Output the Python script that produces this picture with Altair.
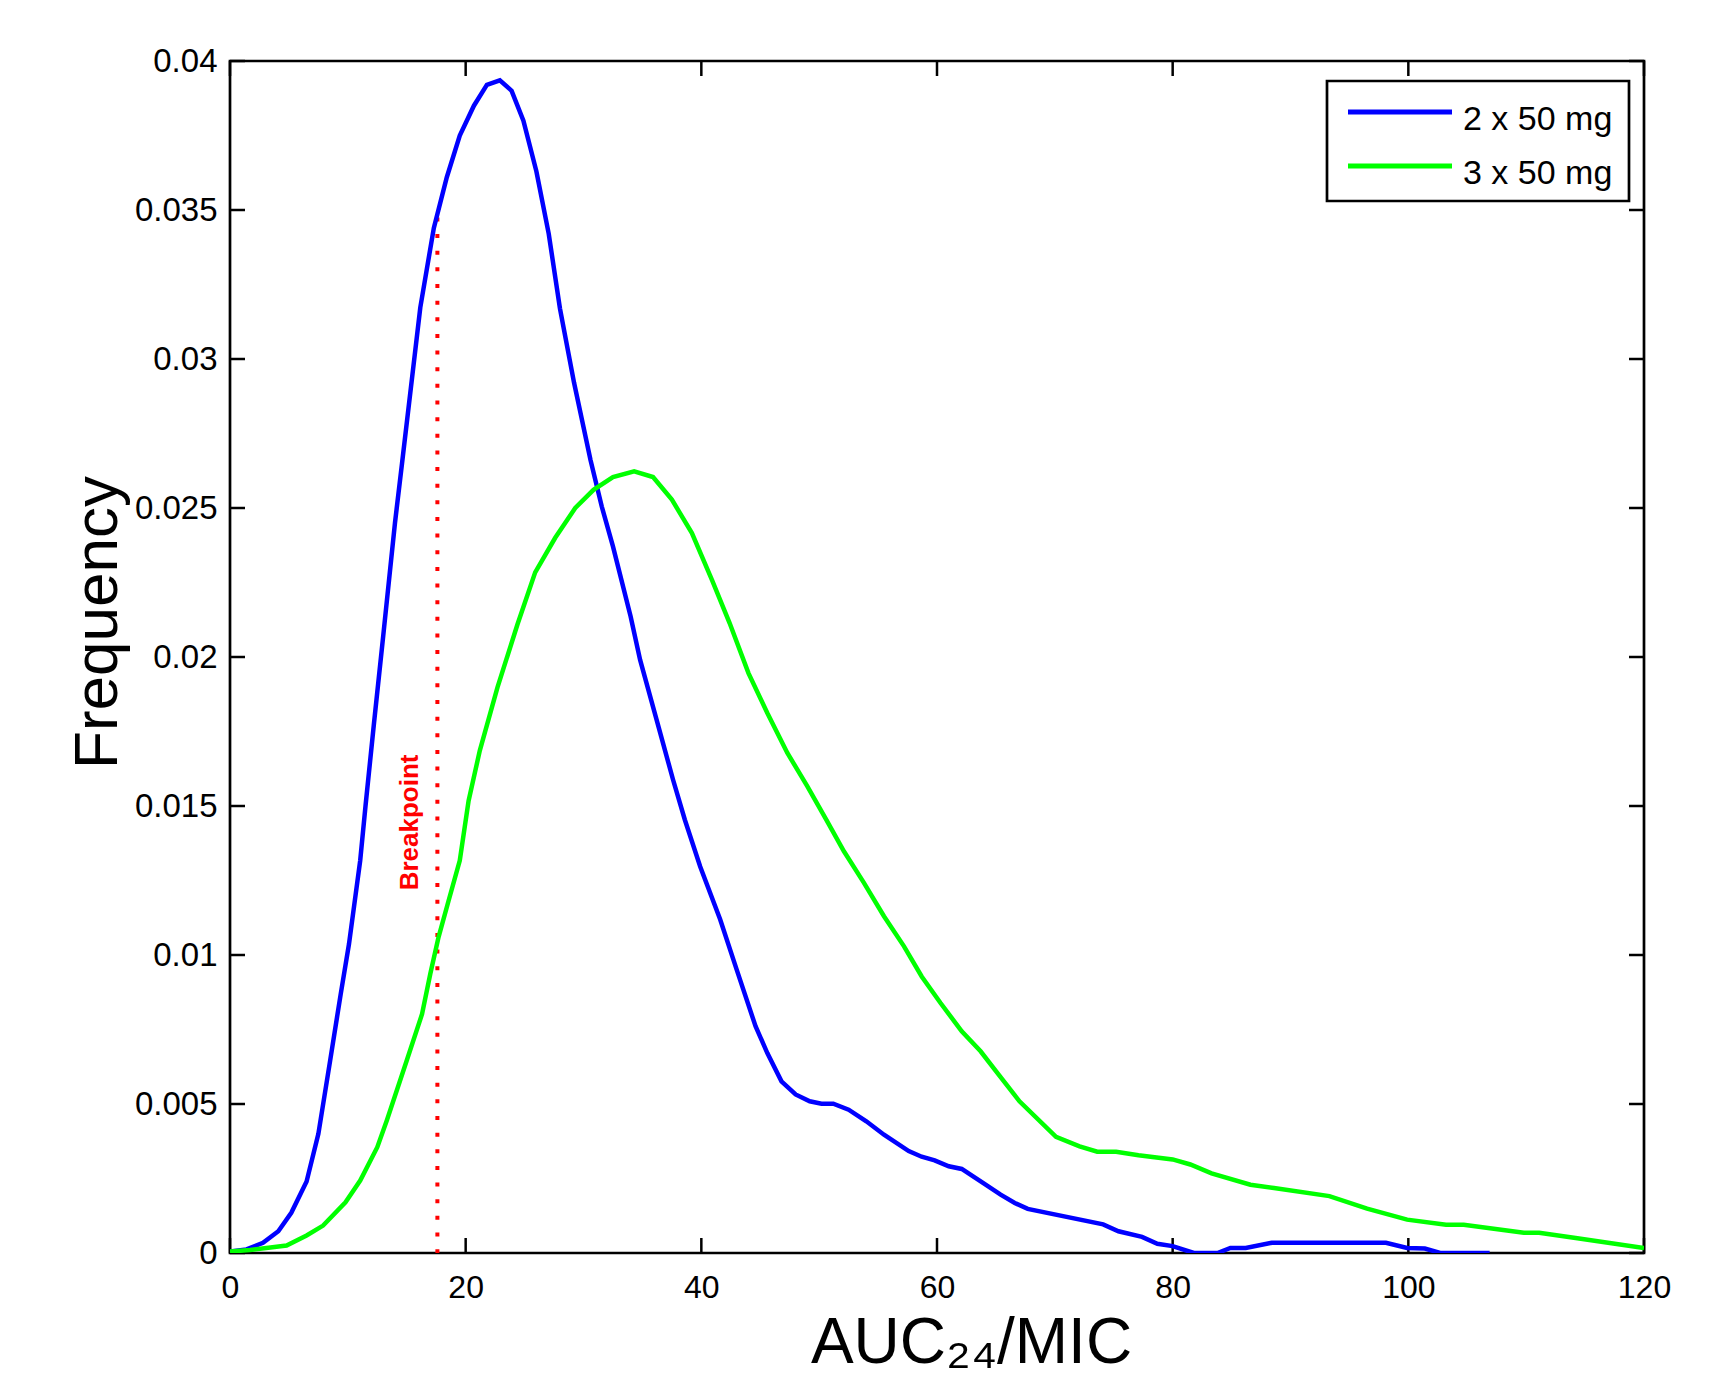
import altair as alt
import pandas as pd

# ---- data ----
blue_x = [0, 1.4, 2.8, 4.1, 5.2, 6.5, 7.5, 8.5, 9.4, 10.1, 11.05, 11.5, 12.2, 13.0, 14.0,
          14.6, 16.15, 17.3, 18.4, 19.5, 20.7, 21.8, 22.9, 23.9, 24.9, 26.0, 27.05, 28.0,
          29.2, 30.6, 31.55, 32.5, 34.0, 34.8, 36.2, 37.6, 38.6, 39.9, 41.6, 43.0, 44.6,
          45.6, 46.8, 48.0, 49.2, 50.2, 51.2, 52.5, 54.0, 55.5, 57.6, 58.7, 59.8, 61.0,
          62.1, 63.9, 65.4, 66.6, 67.7, 74.1, 75.4, 77.4, 78.7, 80.0, 81.8, 83.8, 84.9,
          86.2, 88.4, 98.1, 99.9, 101.4, 102.7, 106.9]
blue_y = [0.00005, 0.00012, 0.00034, 0.00073, 0.00135, 0.0024, 0.004, 0.00646, 0.0087,
          0.01037, 0.01317, 0.0150, 0.0177, 0.0207, 0.0245, 0.0265, 0.03173, 0.0344,
          0.0361, 0.0375, 0.0385, 0.0392, 0.03935, 0.0390, 0.0380, 0.0363, 0.0342, 0.0317,
          0.0292, 0.0266, 0.02505, 0.02371, 0.02136, 0.01991, 0.0179, 0.01588, 0.01454,
          0.01297, 0.01119, 0.00951, 0.00761, 0.00671, 0.00576, 0.00532, 0.00509, 0.00501,
          0.00501, 0.00481, 0.00442, 0.00397, 0.00342, 0.00323, 0.00311, 0.00291, 0.00282,
          0.00235, 0.00196, 0.00168, 0.00148, 0.00096, 0.00073, 0.00054, 0.00031, 0.00023,
          0.0, 0.0, 0.00017, 0.00017, 0.00034, 0.00034, 0.00017, 0.00015, 0.0, 0.0]

green_x = [0, 1.7, 4.8, 6.5, 7.9, 9.8, 11.05, 12.5, 13.3, 15.0, 16.3, 17.0, 17.7, 18.55,
           19.5, 20.25, 21.2, 22.7, 24.4, 25.9, 27.6, 29.3, 30.85, 32.5, 34.3, 35.9, 37.5,
           39.2, 40.9, 42.4, 44.0, 45.6, 47.3, 49.0, 50.6, 52.1, 53.8, 55.5, 57.2, 58.7,
           60.3, 62.1, 63.7, 65.2, 67.0, 70.1, 72.1, 73.6, 75.2, 77.1, 80.0, 81.5, 83.3,
           86.6, 88.6, 93.3, 96.5, 99.9, 103.2, 104.7, 109.8, 111.1, 114.2, 120]
green_y = [0.00005, 0.0001, 0.00025, 0.00059, 0.00092, 0.0017, 0.00243, 0.00355, 0.00444,
           0.00646, 0.00802, 0.00937, 0.0106, 0.01182, 0.01317, 0.01518, 0.01686, 0.01898,
           0.0211, 0.02284, 0.0240, 0.0250, 0.02561, 0.02604, 0.02623, 0.02604, 0.02528,
           0.02416, 0.02259, 0.02114, 0.01946, 0.01812, 0.01678, 0.01566, 0.01454, 0.01348,
           0.01242, 0.0113, 0.01029, 0.00928, 0.00839, 0.00744, 0.00677, 0.006, 0.00509,
           0.0039, 0.00358, 0.0034, 0.0034, 0.00328, 0.00314, 0.00297, 0.00267, 0.00229,
           0.00218, 0.00191, 0.00149, 0.00112, 0.00095, 0.00095, 0.00068, 0.00068, 0.0005,
           0.00017]

series_names = ["2 x 50 mg", "3 x 50 mg"]
series_colors = ["#0000FF", "#00FF00"]

x_ticks = [0, 20, 40, 60, 80, 100, 120]
y_ticks = [0, 0.005, 0.01, 0.015, 0.02, 0.025, 0.03, 0.035, 0.04]

breakpoint_x = [17.6]
breakpoint_top = [0.03475]
breakpoint_label = ["Breakpoint"]
breakpoint_label_x = [15.3]
breakpoint_label_y = [0.01445]

W, H = 1414, 1192
FONT = "Liberation Sans"
TICK = 15

lines_df = pd.DataFrame(
    {"x": blue_x + green_x,
     "y": blue_y + green_y,
     "series": [series_names[0]] * len(blue_x) + [series_names[1]] * len(green_x),
     "order": list(range(len(blue_x))) + list(range(len(green_x)))}
)
xt_df = pd.DataFrame({"x": x_ticks})
yt_df = pd.DataFrame({"y": y_ticks})
bp_df = pd.DataFrame({"x": breakpoint_x, "y0": [0.0], "y1": breakpoint_top})
bpl_df = pd.DataFrame({"x": breakpoint_label_x, "y": breakpoint_label_y, "t": breakpoint_label})
one = pd.DataFrame({"k": [0]})

xscale = alt.Scale(domain=[0, 120], nice=False, zero=False)
yscale = alt.Scale(domain=[0, 0.04], nice=False, zero=False)

x_axis = alt.Axis(values=x_ticks, title="AUC\u2082\u2084/MIC", titleFontSize=64,
                  titleFont=FONT, titleFontWeight="normal", titleColor="black",
                  titlePadding=8, titleX=741, labelFont=FONT, labelFontSize=32,
                  labelColor="black", labelPadding=19, ticks=False, domain=False,
                  grid=False, labelFlush=False)
y_axis = alt.Axis(values=y_ticks, format=".3~f", title="Frequency", titleFontSize=62,
                  titleFont=FONT, titleFontWeight="normal", titleColor="black",
                  titleX=-101, titleY=561, labelFont=FONT, labelFontSize=33,
                  labelColor="black", labelPadding=13, ticks=False, domain=False,
                  grid=False, labelFlush=False)

lines = alt.Chart(lines_df).mark_line(strokeWidth=4.5, clip=True).encode(
    x=alt.X("x:Q", scale=xscale, axis=x_axis),
    y=alt.Y("y:Q", scale=yscale, axis=y_axis),
    color=alt.Color("series:N",
                    scale=alt.Scale(domain=series_names, range=series_colors),
                    legend=None),
    order="order:Q",
)

bp_rule = alt.Chart(bp_df).mark_rule(color="#FF0000", strokeWidth=4,
                                     strokeDash=[4, 12.64]).encode(
    x=alt.X("x:Q", scale=xscale), y=alt.Y("y1:Q", scale=yscale), y2="y0:Q")

bp_text = alt.Chart(bpl_df).mark_text(color="#FF0000", font=FONT, fontSize=26,
                                      fontWeight="bold", angle=270, align="center",
                                      baseline="middle").encode(
    x=alt.X("x:Q", scale=xscale), y=alt.Y("y:Q", scale=yscale), text="t:N")

tick_style = dict(color="black", strokeWidth=2.5)
bottom_ticks = alt.Chart(xt_df).mark_rule(**tick_style).encode(
    x=alt.X("x:Q", scale=xscale), y=alt.value(H), y2=alt.value(H - TICK))
top_ticks = alt.Chart(xt_df).mark_rule(**tick_style).encode(
    x=alt.X("x:Q", scale=xscale), y=alt.value(0), y2=alt.value(TICK))
left_ticks = alt.Chart(yt_df).mark_rule(**tick_style).encode(
    y=alt.Y("y:Q", scale=yscale), x=alt.value(0), x2=alt.value(TICK))
right_ticks = alt.Chart(yt_df).mark_rule(**tick_style).encode(
    y=alt.Y("y:Q", scale=yscale), x=alt.value(W), x2=alt.value(W - TICK))

# ---- legend box (drawn in pixel space, top-right corner) ----
LX0, LX1, LY0, LY1 = 1097, 1399, 20, 140
SYM_X0, SYM_X1, LAB_X = 1118, 1222, 1233
ROW_Y = [51, 105]
legend_box = alt.Chart(one).mark_rect(fill="white", stroke="black", strokeWidth=2.7).encode(
    x=alt.value(LX0), x2=alt.value(LX1), y=alt.value(LY0), y2=alt.value(LY1))
legend_layers = [legend_box]
for i, name in enumerate(series_names):
    legend_layers.append(
        alt.Chart(one).mark_rule(color=series_colors[i], strokeWidth=5).encode(
            x=alt.value(SYM_X0), x2=alt.value(SYM_X1), y=alt.value(ROW_Y[i]))
    )
    legend_layers.append(
        alt.Chart(one).mark_text(font=FONT, fontSize=34, color="black", align="left",
                                 baseline="alphabetic").encode(
            x=alt.value(LAB_X), y=alt.value(ROW_Y[i] + 18), text=alt.value(name))
    )

chart = alt.layer(
    bottom_ticks, top_ticks, left_ticks, right_ticks, bp_rule, bp_text, lines,
    *legend_layers
).properties(
    width=W, height=H,
    background="white",
    autosize=alt.AutoSizeParams(type="none"),
    padding={"left": 222, "top": 53, "right": 63, "bottom": 122},
).configure_view(stroke="black", strokeWidth=2.7)

chart.save("out.html", embed_options={"renderer": "svg", "actions": False})
